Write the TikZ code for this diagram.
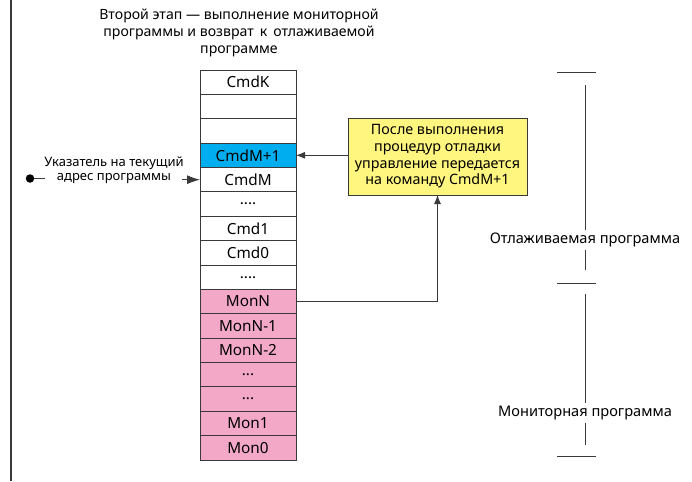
\documentclass[tikz,border=0pt]{standalone}
\usepackage{fontspec}
\setmainfont{Noto Sans}
\usetikzlibrary{arrows.meta}
\definecolor{cmdcyan}{HTML}{00AEEF}
\definecolor{monpink}{HTML}{F3A8C8}
\definecolor{noteyellow}{HTML}{FFF680}
\definecolor{edge}{HTML}{3A3A3A}
\tikzset{
  cell/.style={draw=edge, line width=0.9pt, minimum width=96pt, minimum height=24.375pt,
    inner sep=0pt, outer sep=0pt, anchor=north, font=\fontsize{15.3}{17}\selectfont},
  cmdcell/.style={cell, fill=white},
  hotcell/.style={cell, fill=cmdcyan},
  moncell/.style={cell, fill=monpink},
  note/.style={draw=edge, line width=0.9pt, fill=noteyellow, minimum width=179pt, minimum height=77pt,
    align=center, inner sep=0pt, outer sep=0pt, font=\fontsize{14.3}{16.7}\selectfont},
  lbl/.style={font=\fontsize{14.1}{16.7}\selectfont, align=center, inner sep=1pt},
  small/.style={font=\fontsize{13}{14.5}\selectfont, align=center, inner sep=0pt},
  conn/.style={draw=edge, line width=0.9pt},
  tip/.style={-{Latex[length=9pt,width=7pt]}},
  brk/.style={draw=edge, line width=0.9pt}
}
\begin{document}
\begin{tikzpicture}[x=1pt,y=-1pt]
\useasboundingbox (0,0) rectangle (692,481);
% left border line
\coordinate (lt) at (11,0);
\coordinate (lb) at (11,481);
\draw[edge, line width=1.6pt] (lt) -- (lb);
% title
\node[lbl] (title) at (239,33) {Второй этап — выполнение мониторной\\программы и возврат\, к\, отлаживаемой\\программе};
% stack
\node[cmdcell] (r1) at (248,70) {CmdK};
\node[cmdcell] (r2) at (r1.south) {};
\node[cmdcell] (r3) at (r2.south) {};
\node[hotcell] (r4) at (r3.south) {CmdM+1};
\node[cmdcell] (r5) at (r4.south) {CmdM};
\node[cmdcell] (r6) at (r5.south) {....};
\node[cmdcell] (r7) at (r6.south) {Cmd1};
\node[cmdcell] (r8) at (r7.south) {Cmd0};
\node[cmdcell] (r9) at (r8.south) {....};
\node[moncell] (r10) at (r9.south) {MonN};
\node[moncell] (r11) at (r10.south) {MonN-1};
\node[moncell] (r12) at (r11.south) {MonN-2};
\node[moncell] (r13) at (r12.south) {...};
\node[moncell] (r14) at (r13.south) {...};
\node[moncell] (r15) at (r14.south) {Mon1};
\node[moncell] (r16) at (r15.south) {Mon0};
% note box
\node[note] (box) at (437.5,156.5) {После выполнения\\процедур отладки\\управление передается\\на команду CmdM+1};
\draw[conn,tip] (box.west |- r4.east) -- (r4.east);
\draw[conn,tip] (r10.east) -| (box.south);
% pointer
\node[circle, fill=black, minimum size=8.5pt, inner sep=0pt, outer sep=0pt] (dot) at (30,178.5) {};
\coordinate (dotend) at (45,178.5);
\draw[conn] (dot) -- (dotend);
\node[small] (ptr) at (114,170) {Указатель на текущий\\адрес программы};
\coordinate (ptrstart) at (182,0);
\draw[conn,-{Latex[length=13pt,width=9pt]}] (ptrstart |- r5.west) -- (r5.west);
% right brackets
\coordinate (t1a) at (557,72); \coordinate (t1b) at (596,72);
\coordinate (t2a) at (557,283); \coordinate (t2b) at (596,283);
\coordinate (t3a) at (557,456); \coordinate (t3b) at (596,456);
\draw[brk] (t1a) -- (t1b);
\draw[brk] (t2a) -- (t2b);
\draw[brk] (t3a) -- (t3b);
\node[font=\fontsize{14.6}{17}\selectfont, inner sep=0pt, minimum height=19pt] (dbg) at (585,240) {Отлаживаемая программа};
\node[font=\fontsize{14.6}{17}\selectfont, inner sep=0pt, minimum height=19pt] (mon) at (585,413) {Мониторная программа};
\coordinate (v1) at (585,85); \coordinate (v2) at (585,270);
\coordinate (v3) at (585,294); \coordinate (v4) at (585,445);
\draw[brk] (v1) -- (dbg.north);
\draw[brk] (dbg.south) -- (v2);
\draw[brk] (v3) -- (mon.north);
\draw[brk] (mon.south) -- (v4);
\end{tikzpicture}
\end{document}
